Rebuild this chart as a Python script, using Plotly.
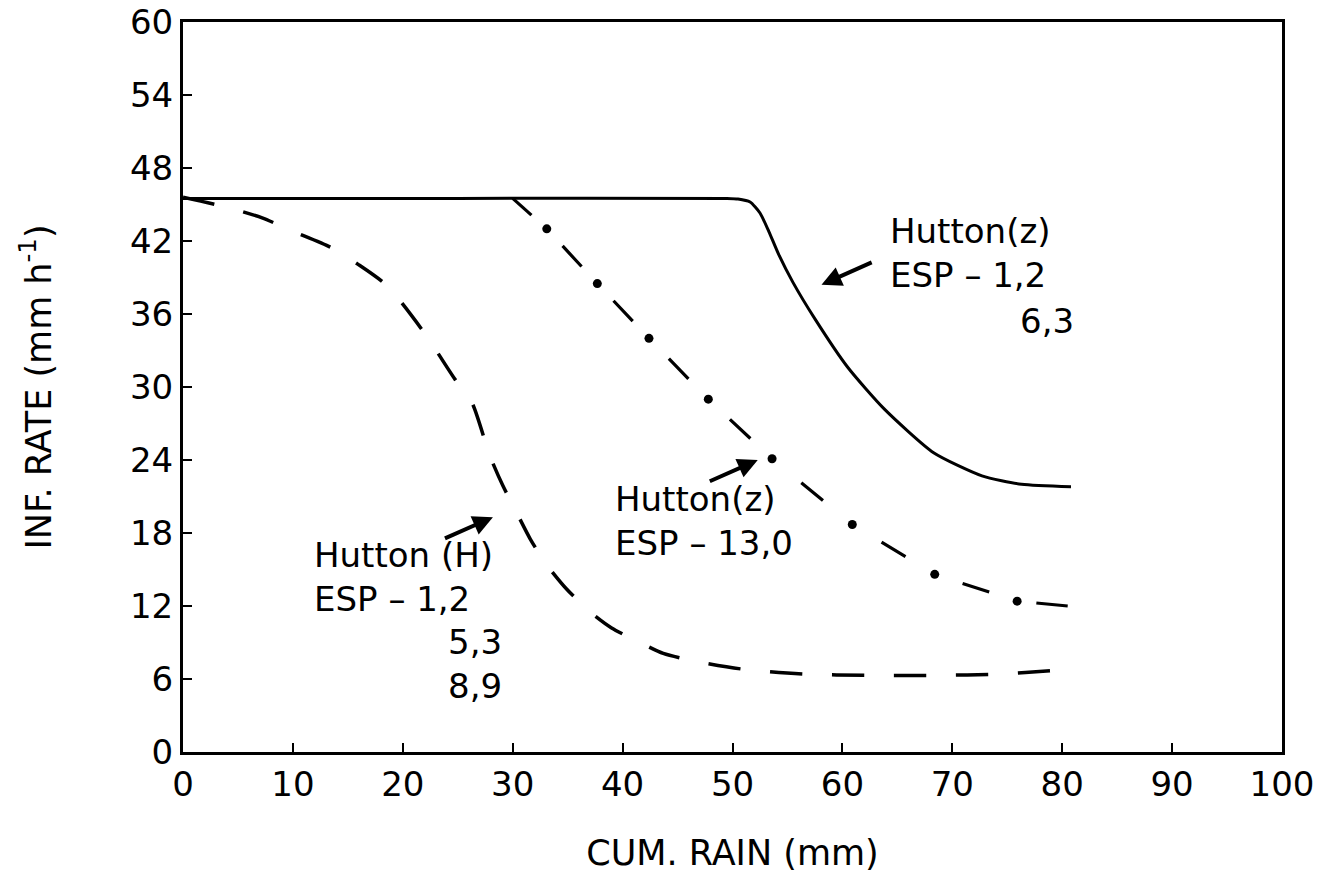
import math
import plotly.graph_objects as go

# ---------------- data ----------------
x_ticks = [0, 10, 20, 30, 40, 50, 60, 70, 80, 90, 100]
y_ticks = [0, 6, 12, 18, 24, 30, 36, 42, 48, 54, 60]

# Hutton(z) ESP 1,2 / 6,3  (solid)
solid_x = [0, 25, 49.5, 50.5, 51.6, 52.5, 53.3, 54.2, 55.5, 57.5, 60.5, 63.8, 68.3, 72.7, 76.3, 80.8]
solid_y = [45.5, 45.5, 45.5, 45.45, 45.2, 44.3, 42.8, 40.9, 38.6, 35.6, 31.6, 28.2, 24.6, 22.7, 22.0, 21.8]

# Hutton(H) ESP 1,2 / 5,3 / 8,9  (long dashes)
hh_x = [0, 4.3, 7.2, 10.0, 13.4, 15.9, 18.6, 22.0, 24.7, 26.3, 27.9, 29.1, 30.4, 31.6,
        33.0, 34.9, 37.2, 39.0, 41.8, 43.7, 46.4, 51.0, 56.7, 62.2, 68.5, 74.3, 79.3, 80.9]
hh_y = [45.6, 44.7, 43.9, 42.8, 41.5, 40.1, 38.3, 34.4, 30.7, 28.7, 24.4, 21.9, 19.6, 17.5,
        15.5, 13.4, 11.4, 10.2, 8.9, 8.1, 7.5, 6.8, 6.4, 6.3, 6.3, 6.4, 6.7, 6.8]

# Hutton(z) ESP 13,0  (dash-dot; interior points are the dots)
zd_x = [30.0, 33.1, 37.7, 42.4, 47.8, 53.6, 60.9, 68.4, 75.9, 80.5]
zd_y = [45.5, 43.0, 38.5, 34.0, 29.0, 24.1, 18.7, 14.6, 12.4, 12.0]

# ---------------- layout geometry ----------------
W, H = 1329, 886
ML, MR, MT, MB = 183, 47, 22, 134
XR, YR = (0, 100), (0, 60)
sx = (W - ML - MR) / (XR[1] - XR[0])
sy = (H - MT - MB) / (YR[1] - YR[0])

FONT = "DejaVu Sans"
BLACK = "black"

fig = go.Figure()

fig.add_trace(go.Scatter(
    x=solid_x, y=solid_y, mode="lines",
    line=dict(color=BLACK, width=3, shape="spline", smoothing=0.6),
    showlegend=False, hoverinfo="skip"))

fig.add_trace(go.Scatter(
    x=hh_x, y=hh_y, mode="lines",
    line=dict(color=BLACK, width=3.5, dash="32px,30px", shape="spline", smoothing=0.7),
    showlegend=False, hoverinfo="skip"))

# dash-dot curve: one dash centred between each pair of dots
n = len(zd_x)
DASH = 28
for i in range(n - 1):
    x0, y0, x1, y1 = zd_x[i], zd_y[i], zd_x[i + 1], zd_y[i + 1]
    Lp = math.hypot((x1 - x0) * sx, (y1 - y0) * sy)
    if i == 0:
        dash = f"{Lp * 0.55:.1f}px,3000px"
    elif i == n - 2:
        g = Lp * 0.38
        dash = f"0px,{g:.1f}px,3000px,10px"
    else:
        g = (Lp - DASH) / 2
        dash = f"0px,{g:.1f}px,{DASH}px,3000px"
    fig.add_trace(go.Scatter(
        x=[x0, x1], y=[y0, y1], mode="lines",
        line=dict(color=BLACK, width=3.2, dash=dash),
        showlegend=False, hoverinfo="skip"))

fig.add_trace(go.Scatter(
    x=zd_x[1:-1], y=zd_y[1:-1], mode="markers",
    marker=dict(color=BLACK, size=9),
    showlegend=False, hoverinfo="skip"))

# ---------------- annotations ----------------
tfont = dict(family=FONT, size=34, color=BLACK)
texts = [
    dict(x=64.15, y=41.0, text="Hutton(z)<br>ESP – 1,2", xanchor="left", align="left"),
    dict(x=81.3, y=35.4, text="6,3", xanchor="right", align="right"),
    dict(x=39.1, y=18.95, text="Hutton(z)<br>ESP – 13,0", xanchor="left", align="left"),
    dict(x=11.7, y=14.4, text="Hutton (H)<br>ESP – 1,2", xanchor="left", align="left"),
    dict(x=29.2, y=7.2, text="5,3<br>8,9", xanchor="right", align="right"),
]
for t in texts:
    fig.add_annotation(xref="x", yref="y", showarrow=False, yanchor="middle",
                       font=tfont, **t)

arrows = [  # (tail x, tail y, head x, head y)
    (62.8, 40.3, 58.1, 38.4),
    (47.8, 22.2, 52.3, 24.0),
    (23.7, 17.5, 28.2, 19.3),
]
for tx, ty, hx, hy in arrows:
    fig.add_annotation(x=hx, y=hy, ax=tx, ay=ty, xref="x", yref="y",
                       axref="x", ayref="y", text="", showarrow=True,
                       arrowhead=2, arrowsize=1.0, arrowwidth=4,
                       arrowcolor=BLACK, standoff=0, startstandoff=0)

axis_common = dict(
    showline=True, linewidth=3, linecolor=BLACK, mirror=True,
    ticks="inside", ticklen=9, tickwidth=2, tickcolor=BLACK,
    showgrid=False, zeroline=False, ticklabeloverflow="allow",
    tickfont=dict(family=FONT, size=34, color=BLACK),
)

fig.update_layout(
    width=W, height=H,
    margin=dict(l=ML, r=MR, t=MT, b=MB),
    paper_bgcolor="white", plot_bgcolor="white",
    template="none",
    showlegend=False,
    xaxis=dict(range=list(XR), tickvals=x_ticks, ticktext=[str(v) for v in x_ticks],
               title=dict(text="CUM. RAIN (mm)", font=dict(family=FONT, size=35, color=BLACK),
                          standoff=38),
               **axis_common),
    yaxis=dict(range=list(YR), tickvals=y_ticks, ticktext=[str(v) for v in y_ticks],
               title=dict(text="INF. RATE (mm h<sup>-1</sup>)",
                          font=dict(family=FONT, size=35, color=BLACK), standoff=68),
               **axis_common),
)

fig.write_html("out.html")
